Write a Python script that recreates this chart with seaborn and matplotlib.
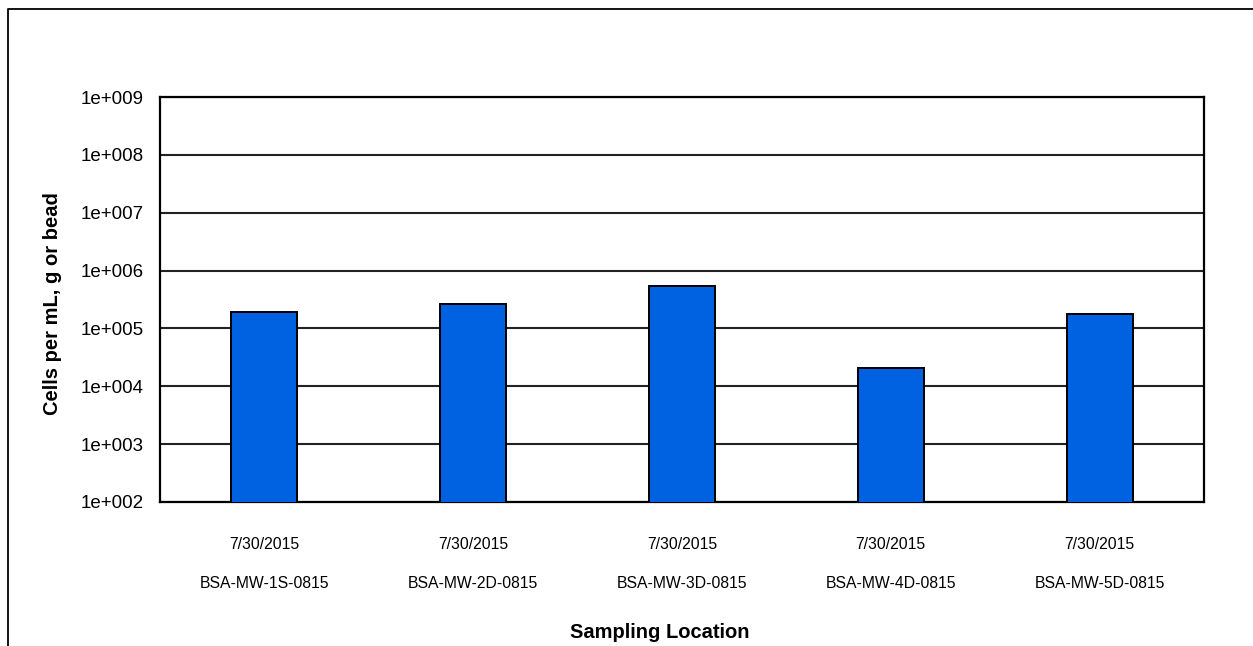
import numpy as np
import pandas as pd
import matplotlib
matplotlib.use("Agg")
import matplotlib.pyplot as plt
from matplotlib.lines import Line2D
from matplotlib.ticker import FixedLocator, FuncFormatter, NullLocator
import seaborn as sns

# Data
dates = ["7/30/2015", "7/30/2015", "7/30/2015", "7/30/2015", "7/30/2015"]
locations = ["BSA-MW-1S-0815", "BSA-MW-2D-0815", "BSA-MW-3D-0815",
             "BSA-MW-4D-0815", "BSA-MW-5D-0815"]
cells = [1.94e5, 2.67e5, 5.47e5, 2.05e4, 1.77e5]
y_ticks = [1e2, 1e3, 1e4, 1e5, 1e6, 1e7, 1e8, 1e9]

sns.set_style("white")
plt.rcParams["font.family"] = ["Liberation Sans", "DejaVu Sans"]
plt.rcParams["text.color"] = "black"
plt.rcParams["axes.labelcolor"] = "black"
plt.rcParams["xtick.color"] = "black"
plt.rcParams["ytick.color"] = "black"

W, H = 1253, 646
fig = plt.figure(figsize=(W / 100, H / 100), dpi=100)
ax = fig.add_axes([160 / W, 1 - 502 / H, (1204 - 160) / W, (502 - 97) / H])
ax.set_yscale("log")

df = pd.DataFrame({"loc": locations, "cells": cells})
sns.barplot(data=df, x="loc", y="cells", ax=ax, color="#0062E0",
            saturation=1, width=0.316, edgecolor="black", linewidth=1.4,
            zorder=3)

ax.set_ylim(1e2, 1e9)
ax.yaxis.set_major_locator(FixedLocator(y_ticks))
ax.yaxis.set_minor_locator(NullLocator())
ax.yaxis.set_major_formatter(
    FuncFormatter(lambda v, p: f"1e+{int(round(np.log10(v))):03d}"))
ax.grid(axis="y", which="major", color="#222222", linewidth=1.5, zorder=1)
ax.set_axisbelow(True)

ax.set_xticks(range(len(locations)))
ax.set_xticklabels([f"{d}\n\n{l}" for d, l in zip(dates, locations)],
                   fontsize=11.3, linespacing=1.38, color="black")
ax.tick_params(axis="x", length=0, pad=25)
ax.tick_params(axis="y", length=0, pad=12, labelsize=13.5, labelcolor="black")

for s in ax.spines.values():
    s.set_visible(True)
    s.set_color("black")
    s.set_linewidth(1.6)

ax.set_xlabel("Sampling Location", fontsize=14.5, fontweight="bold", color="black")
ax.set_ylabel("Cells per mL, g or bead", fontsize=14.5, fontweight="bold", color="black")
ax.xaxis.set_label_coords((660 - 160) / (1204 - 160), -(632 - 502) / (502 - 97))
ax.yaxis.set_label_coords(-(160 - 53) / (1204 - 160), (502 - 304) / (502 - 97))
ax.xaxis.label.set_va("center")
ax.yaxis.label.set_va("center")

x0 = 7.5 / W
y0 = 1 - 9 / H
fig.add_artist(Line2D([x0, x0, 1.0], [0.0, y0, y0], transform=fig.transFigure,
                      color="black", linewidth=1.3))

fig.savefig("out.png", dpi=100, facecolor="white")
